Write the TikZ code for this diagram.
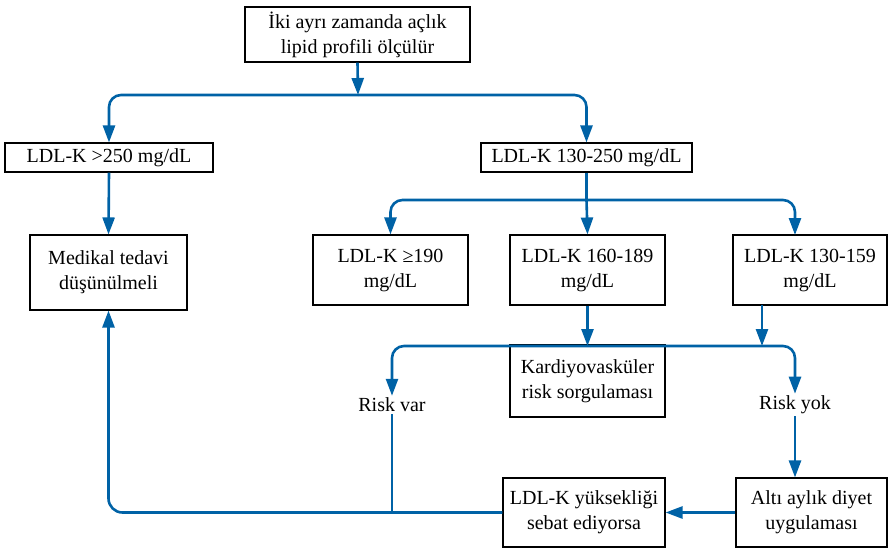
\documentclass[tikz,border=0pt]{standalone}
\usepackage{fontspec}
\setmainfont{Liberation Serif}
\usetikzlibrary{arrows.meta}
\definecolor{flowblue}{RGB}{0,98,166}
\tikzset{
  box/.style={draw=black, line width=1.1pt, inner sep=0pt, align=center, font=\fontsize{20}{25}\selectfont},
  lbl/.style={inner sep=2pt, align=center, font=\fontsize{20}{25}\selectfont},
  conn/.style={draw=flowblue, line width=2.6pt, -{Triangle[length=17pt,width=12pt]}},
  plain/.style={draw=flowblue, line width=2.6pt},
}
\begin{document}
\begin{tikzpicture}[x=1pt,y=-1pt]
\useasboundingbox (0,0) rectangle (889,550);
\node[box, minimum width=225pt, minimum height=55pt] (top) at (357.5,34.5) {İki ayrı zamanda açlık\\lipid profili ölçülür};
\node[box, minimum width=208pt, minimum height=29pt] (b250) at (109,157.5) {LDL-K >250 mg/dL};
\node[box, minimum width=211pt, minimum height=29pt] (b130) at (586.5,157.5) {LDL-K 130-250 mg/dL};
\node[box, minimum width=157pt, minimum height=75pt] (med) at (108.5,272.5) {Medikal tedavi\\düşünülmeli};
\node[box, minimum width=155pt, minimum height=70pt] (b190) at (390.5,270) {LDL-K ≥190\\mg/dL};
\node[box, minimum width=155pt, minimum height=70pt] (b160) at (587.5,270) {LDL-K 160-189\\mg/dL};
\node[box, minimum width=154pt, minimum height=70pt] (b159) at (810,270) {LDL-K 130-159\\mg/dL};
\node[box, minimum width=155pt, minimum height=72pt] (kard) at (587.5,381) {Kardiyovasküler\\risk sorgulaması};
\node[lbl] (rvar) at (392,405) {Risk var};
\node[lbl] (ryok) at (795,405) {Risk yok};
\node[box, minimum width=151pt, minimum height=69pt] (alti) at (811.5,512.5) {Altı aylık diyet\\uygulaması};
\node[box, minimum width=162pt, minimum height=69pt] (sebat) at (584,512.5) {LDL-K yüksekliği\\sebat ediyorsa};
\coordinate (bar1) at (358,95);
\coordinate (bar2) at (586.5,200);
\coordinate (bar3) at (590,346);
\coordinate (a159) at (795,235);
\coordinate (s159) at (762,305);
% top split
\draw[conn] (top.south) -- (bar1);
\draw[conn, rounded corners=12pt] (bar1) -| (b250.north);
\draw[conn, rounded corners=12pt] (bar1) -| (b130.north);
\draw[conn] (b250.south) -- (med.north);
% second split
\draw[plain] (b130.south) -- (bar2);
\draw[conn, rounded corners=12pt] (bar2) -| (b190.north);
\draw[conn, rounded corners=12pt] (bar2) -| (a159);
\draw[conn] (bar2) -- (b160.north);
% to risk
\draw[conn] (b160.south) -- (b160.south |- bar3);
\draw[conn] (s159) -- (s159 |- bar3);
\draw[conn, rounded corners=12pt] (bar3) -| (rvar.north);
\draw[conn, rounded corners=12pt] (bar3) -| (ryok.north);
% bottom
\draw[plain] (rvar.south) -- (rvar.south |- sebat.west);
\draw[conn] (ryok.south) -- (ryok.south |- alti.north);
\draw[conn] (alti.west) -- (sebat.east);
\draw[conn, rounded corners=14pt] (sebat.west) -| (med.south);
\end{tikzpicture}
\end{document}
